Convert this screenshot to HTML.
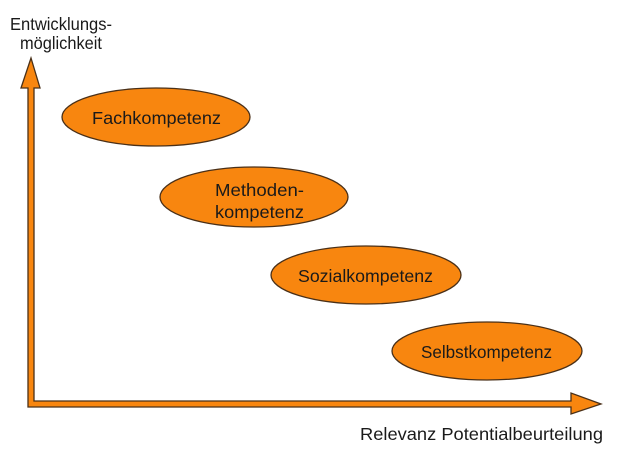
<!DOCTYPE html>
<html><head><meta charset="utf-8"><style>
html,body{margin:0;padding:0;background:#fff;}
svg{display:block;}
text{font-family:"Liberation Sans",Arial,sans-serif;font-size:17.5px;fill:#1a1a1a;}
</style></head><body>
<svg width="640" height="453" viewBox="0 0 640 453" xmlns="http://www.w3.org/2000/svg">
<g fill="#f8860f" stroke="#4a3018" stroke-width="1.3">
<path d="M28 407 L28 88 L21 88 L31 58 L40 88 L34 88 L34 401 L571 401 L571 393 L601 404 L571 414 L571 407 Z"/>
<ellipse cx="156" cy="117" rx="94" ry="29"/>
<ellipse cx="254" cy="197" rx="94" ry="30"/>
<ellipse cx="366" cy="275" rx="95" ry="29"/>
<ellipse cx="487" cy="351" rx="95" ry="29"/>
</g>
<text x="10" y="30" textLength="102" lengthAdjust="spacingAndGlyphs">Entwicklungs-</text>
<text x="20" y="49" textLength="82" lengthAdjust="spacingAndGlyphs">möglichkeit</text>
<text x="92" y="124" textLength="129" lengthAdjust="spacingAndGlyphs">Fachkompetenz</text>
<text x="215" y="196" textLength="89" lengthAdjust="spacingAndGlyphs">Methoden-</text>
<text x="215" y="218" textLength="89" lengthAdjust="spacingAndGlyphs">kompetenz</text>
<text x="298" y="282" textLength="135" lengthAdjust="spacingAndGlyphs">Sozialkompetenz</text>
<text x="421" y="358" textLength="131" lengthAdjust="spacingAndGlyphs">Selbstkompetenz</text>
<text x="360" y="440" textLength="243" lengthAdjust="spacingAndGlyphs">Relevanz Potentialbeurteilung</text>
</svg>
</body></html>
